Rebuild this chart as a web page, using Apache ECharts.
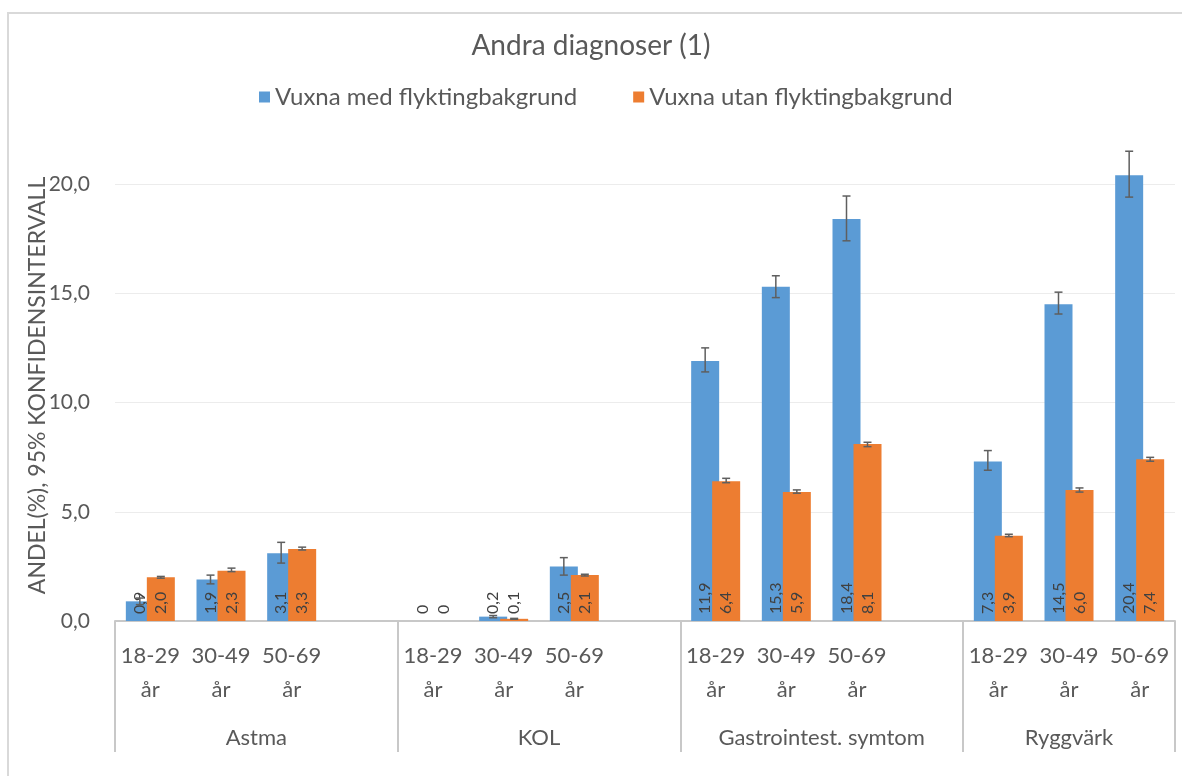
<!DOCTYPE html>
<html>
<head>
<meta charset="utf-8">
<script src="https://cdn.jsdelivr.net/npm/echarts@6/dist/echarts.min.js"></script>
<style>
  html, body { margin: 0; padding: 0; background: #fff; }
  #frame { position: absolute; left: 7px; top: 12px; width: 1400px; height: 1000px;
           border-left: 2px solid #d9d9d9; border-top: 2px solid #d9d9d9; }
  #chart { position: absolute; left: 0; top: 0; width: 1182px; height: 776px; }
</style>
</head>
<body>
<div id="frame"></div>
<div id="chart"></div>
<script>
// Diagnosis groups and age bands shown on the two-level category axis
const groups = ['Astma', 'KOL', 'Gastrointest. symtom', 'Ryggvärk'];
const ageBands = ['18-29\når', '30-49\når', '50-69\når'];
const seriesNames = ['Vuxna med flyktingbakgrund', 'Vuxna utan flyktingbakgrund'];

// Share (%) per group and age band
const withRefugee    = [[0.9, 1.9, 3.1], [0, 0.2, 2.5], [11.9, 15.3, 18.4], [7.3, 14.5, 20.4]];
const withoutRefugee = [[2.0, 2.3, 3.3], [0, 0.1, 2.1], [6.4, 5.9, 8.1], [3.9, 6.0, 7.4]];

// 95% confidence interval bounds
const withLow     = [[0.75, 1.7, 2.65], [null, 0.15, 2.1], [11.4, 14.8, 17.4], [6.9, 14.05, 19.4]];
const withHigh    = [[1.05, 2.1, 3.6], [null, 0.25, 2.9], [12.5, 15.8, 19.45], [7.8, 15.05, 21.5]];
const withoutLow  = [[1.96, 2.26, 3.25], [null, 0.08, 2.06], [6.33, 5.85, 7.98], [3.86, 5.9, 7.31]];
const withoutHigh = [[2.04, 2.42, 3.38], [null, 0.12, 2.14], [6.53, 6.0, 8.18], [3.97, 6.09, 7.49]];

const yTicks = [0, 5, 10, 15, 20];

// ---- build flat category list: each group gets its age bands plus a spacer slot (except the last)
const categories = [];
const flatWith = [], flatWithout = [];
const errWith = [], errWithout = [];
const groupSlots = [];
groups.forEach((g, gi) => {
  const start = categories.length;
  ageBands.forEach((a, ai) => {
    const idx = categories.length;
    categories.push(a);
    flatWith.push(withRefugee[gi][ai]);
    flatWithout.push(withoutRefugee[gi][ai]);
    if (withLow[gi][ai] != null) errWith.push([idx, withLow[gi][ai], withHigh[gi][ai]]);
    if (withoutLow[gi][ai] != null) errWithout.push([idx, withoutLow[gi][ai], withoutHigh[gi][ai]]);
  });
  if (gi < groups.length - 1) {
    categories.push('');
    flatWith.push(null);
    flatWithout.push(null);
  }
  groupSlots.push([start, categories.length - start]);
});

// Group axis: half-slot points, so boundaries and group midpoints both land on points
const halfCount = categories.length * 2 + 1;
const groupAxis = new Array(halfCount).fill('');
const boundaryIdx = new Set();
groupSlots.forEach(([start, size], gi) => {
  groupAxis[2 * start + size] = groups[gi];
  boundaryIdx.add(2 * start);
  boundaryIdx.add(2 * (start + size));
});

const fmt = v => (v === 0 ? '0' : v.toFixed(1).replace('.', ','));
const textColor = '#595959';
const fontFamily = 'Lato, "Liberation Sans", sans-serif';
const BAR_W = 28;
const BAR_OFFSET = 10.5;  // half of (bar width - overlap)

function errorBar(offset) {
  return function (params, api) {
    const x = api.coord([api.value(0), 0])[0] + offset;
    const yl = api.coord([api.value(0), api.value(1)])[1];
    const yh = api.coord([api.value(0), api.value(2)])[1];
    const cap = 4;
    const style = { stroke: '#5f5f5f', lineWidth: 1.5 };
    return {
      type: 'group',
      children: [
        { type: 'line', shape: { x1: x, y1: yl, x2: x, y2: yh }, style },
        { type: 'line', shape: { x1: x - cap, y1: yl, x2: x + cap, y2: yl }, style },
        { type: 'line', shape: { x1: x - cap, y1: yh, x2: x + cap, y2: yh }, style }
      ]
    };
  };
}

const barLabel = {
  show: true,
  position: 'insideBottom',
  rotate: 90,
  align: 'left',
  verticalAlign: 'middle',
  distance: 7,
  color: '#404040',
  fontSize: 16,
  fontFamily,
  formatter: p => (p.value == null ? '' : fmt(p.value))
};

const chart = echarts.init(document.getElementById('chart'), null, { renderer: 'canvas' });
chart.setOption({
  animation: false,
  backgroundColor: 'transparent',
  textStyle: { fontFamily },
  title: {
    text: 'Andra diagnoser (1)',
    left: 'center',
    top: 27,
    textStyle: { fontSize: 28, fontWeight: 'normal', color: textColor, fontFamily }
  },
  legend: {
    data: seriesNames,
    left: 254,
    top: 80,
    icon: 'rect',
    itemWidth: 11,
    itemHeight: 11,
    itemGap: 56,
    textStyle: { fontSize: 24, color: textColor, fontFamily }
  },
  grid: { left: 115, right: 7, top: 184, bottom: 155, containLabel: false },
  xAxis: [
    {
      type: 'category',
      data: categories,
      boundaryGap: true,
      axisLine: { show: true, lineStyle: { color: '#c8c8c8', width: 2 } },
      axisTick: { show: false },
      axisLabel: {
        interval: 0,
        margin: 18,
        fontSize: 22,
        lineHeight: 34,
        color: textColor,
        fontFamily
      }
    },
    {
      type: 'category',
      data: groupAxis,
      boundaryGap: false,
      position: 'bottom',
      axisLine: { show: false },
      axisTick: {
        show: true,
        inside: false,
        length: 131,
        interval: i => boundaryIdx.has(i),
        lineStyle: { color: '#c8c8c8', width: 2 }
      },
      axisLabel: {
        interval: 0,
        margin: 106,
        fontSize: 22,
        color: textColor,
        fontFamily
      }
    }
  ],
  yAxis: {
    type: 'value',
    min: yTicks[0],
    max: yTicks[yTicks.length - 1],
    interval: yTicks[1] - yTicks[0],
    name: 'ANDEL(%), 95% KONFIDENSINTERVALL',
    nameLocation: 'middle',
    nameRotate: 90,
    nameGap: 66,
    nameMoveOverlap: false,
    nameTextStyle: { fontSize: 23, color: textColor, fontFamily, padding: [0, 0, 0, 34] },
    axisLine: { show: false },
    axisTick: { show: false },
    axisLabel: {
      margin: 25,
      fontSize: 21,
      color: textColor,
      fontFamily,
      formatter: v => v.toFixed(1).replace('.', ',')
    },
    splitLine: { lineStyle: { color: '#ececec', width: 1 } }
  },
  series: [
    {
      name: seriesNames[0],
      type: 'bar',
      data: flatWith,
      barWidth: BAR_W,
      barGap: '-25%',
      clip: false,
      itemStyle: { color: '#5b9bd5' },
      label: barLabel,
      z: 2
    },
    {
      name: seriesNames[1],
      type: 'bar',
      data: flatWithout,
      barWidth: BAR_W,
      barGap: '-25%',
      clip: false,
      itemStyle: { color: '#ed7d31' },
      label: barLabel,
      z: 2
    },
    {
      type: 'custom',
      name: 'ci-with',
      data: errWith,
      encode: { x: 0, y: [1, 2] },
      renderItem: errorBar(-BAR_OFFSET),
      z: 5,
      silent: true
    },
    {
      type: 'custom',
      name: 'ci-without',
      data: errWithout,
      encode: { x: 0, y: [1, 2] },
      renderItem: errorBar(BAR_OFFSET),
      z: 5,
      silent: true
    }
  ]
});
</script>
</body>
</html>
